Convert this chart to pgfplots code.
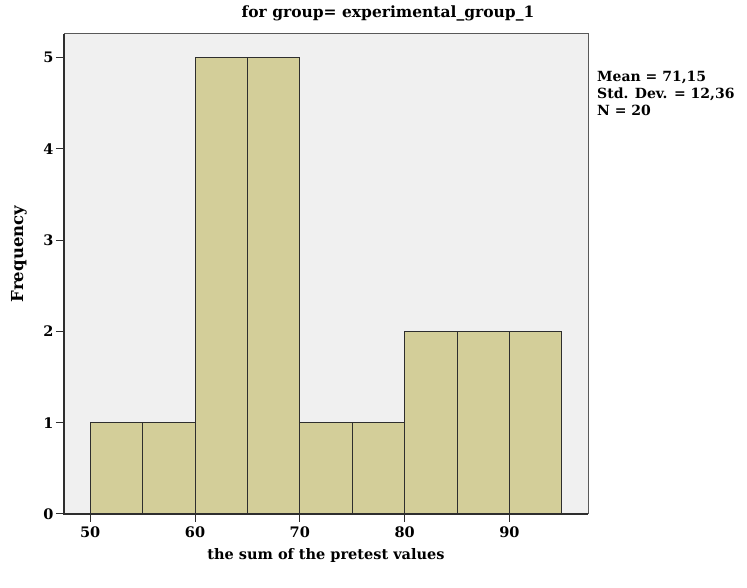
\documentclass[border=0pt]{standalone}
\usepackage{fontspec}
\setmainfont{DejaVu Serif}
\usepackage{pgfplots}
\pgfplotsset{compat=1.18}
\definecolor{barfill}{HTML}{D3CE99}
\definecolor{bgfill}{HTML}{F0F0F0}
\definecolor{edge}{HTML}{2E2E2E}
\begin{document}
\begin{tikzpicture}[x=1pt,y=1pt]
\path (0,0) rectangle (747,588);
\begin{axis}[
  at={(64pt,74pt)}, anchor=south west,
  scale only axis, width=524pt, height=480pt,
  xmin=47.5, xmax=97.5, ymin=0, ymax=5.26,
  axis background/.style={fill=bgfill},
  axis line style={draw=none},
  xtick={50,60,70,80,90}, ytick={0,1,2,3,4,5},
  xtick pos=bottom, ytick pos=left,
  tick align=outside, major tick length=8pt,
  tick style={draw=edge, line width=1pt},
  every tick label/.append style={font=\fontsize{14.5}{17}\selectfont\bfseries},
  /pgf/number format/assume math mode=true,
  xticklabel style={yshift=-1pt},
  yticklabel style={xshift=1pt},
  xlabel={the sum of the pretest values},
  xlabel style={font=\fontsize{14.5}{17}\selectfont\bfseries, yshift=-4pt},
  clip=false,
]
\draw[gray!70!black, line width=1pt] (axis cs:47.5,5.26) -- (axis cs:97.5,5.26) -- (axis cs:97.5,0);
\addplot[ybar interval, fill=barfill, draw=edge, line width=1pt] coordinates {
(50,1) (55,1) (60,5) (65,5) (70,1) (75,1) (80,2) (85,2) (90,2) (95,2)
};
\draw[edge, line width=1.2pt] (axis cs:47.5,5.26) -- (axis cs:47.5,0) -- (axis cs:97.5,0);
\end{axis}
\node[font=\fontsize{16.5}{20}\selectfont\bfseries, rotate=90] at (19,334) {Frequency};
\node[font=\fontsize{15.5}{18}\selectfont\bfseries] at (388,575) {for group= experimental\_group\_1};
\node[font=\fontsize{14}{17}\selectfont\bfseries, anchor=north west, align=left, inner sep=0pt] at (597,517) {Mean = 71,15\\Std. Dev. = 12,36\\N = 20};
\end{tikzpicture}
\end{document}
